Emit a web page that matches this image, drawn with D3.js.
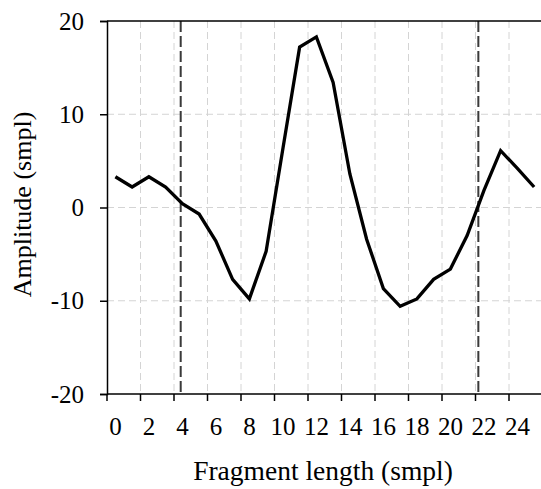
<!DOCTYPE html>
<html>
<head>
<meta charset="utf-8">
<script src="https://cdn.jsdelivr.net/npm/d3@7"></script>
<style>
  html, body { margin: 0; padding: 0; background: #fff; overflow: hidden; }
  svg { display: block; }
  text { font-family: "Liberation Serif", "Times New Roman", serif; fill: #000; }
</style>
</head>
<body>
<script>
// ---- data ----
const categories = d3.range(0, 26);            // fragment sample index 0..25
const amplitude = [3.3, 2.2, 3.3, 2.2, 0.4, -0.7, -3.6, -7.7, -9.8, -4.7,
                   6.3, 17.2, 18.3, 13.4, 3.6, -3.4, -8.7, -10.6, -9.8, -7.7,
                   -6.6, -3.0, 1.8, 6.1, 4.2, 2.2];
const yTicks = [-20, -10, 0, 10, 20];
const xTickLabels = [0, 2, 4, 6, 8, 10, 12, 14, 16, 18, 20, 22, 24];
const markers = [3.9, 21.67];                  // dashed vertical boundaries (sample units)
const xTitle = "Fragment length (smpl)";
const yTitle = "Amplitude (smpl)";

// ---- layout ----
const W = 541, H = 489;
const mLeft = 107, mRight = 542.5, mTop = 21, mBottom = 394;

const svg = d3.select("body").append("svg").attr("width", W).attr("height", H);

const x = d3.scaleBand().domain(categories).range([mLeft, mRight]).padding(0);
const xc = d => x(d) + x.bandwidth() / 2;
const xLin = d3.scaleLinear().domain([-0.5, categories.length - 0.5]).range([mLeft, mRight]);
const y = d3.scaleLinear().domain([-20, 20]).range([mBottom, mTop]);

// grid: horizontal
svg.append("g").selectAll("line").data(yTicks.filter(v => v !== -20 && v !== 20)).join("line")
  .attr("x1", mLeft).attr("x2", W).attr("y1", d => y(d)).attr("y2", d => y(d))
  .attr("stroke", "#d4d4d4").attr("stroke-width", 1).attr("stroke-dasharray", "7,4");

// grid: vertical at category boundaries every 2
const boundaries = xTickLabels.map(v => x(v));
svg.append("g").selectAll("line").data(boundaries.filter(b => b > mLeft + 1)).join("line")
  .attr("x1", d => d).attr("x2", d => d).attr("y1", mTop).attr("y2", mBottom)
  .attr("stroke", "#d4d4d4").attr("stroke-width", 1).attr("stroke-dasharray", "7,4");

// dashed markers
svg.append("g").selectAll("line").data(markers).join("line")
  .attr("x1", d => xLin(d)).attr("x2", d => xLin(d)).attr("y1", mTop).attr("y2", mBottom)
  .attr("stroke", "#3a3a3a").attr("stroke-width", 2).attr("stroke-dasharray", "11,4");

// data line
const line = d3.line().x((d, i) => xc(categories[i])).y(d => y(d));
svg.append("path").datum(amplitude)
  .attr("d", line).attr("fill", "none")
  .attr("stroke", "#000").attr("stroke-width", 3.3).attr("stroke-linejoin", "miter");

// top border
svg.append("line").attr("x1", mLeft).attr("x2", W).attr("y1", mTop).attr("y2", mTop)
  .attr("stroke", "#000").attr("stroke-width", 1.5);

// y axis
const yAxis = d3.axisLeft(y).tickValues(yTicks).tickSize(7).tickPadding(16).tickFormat(d3.format("d"));
const gy = svg.append("g").attr("transform", `translate(${mLeft},0)`).call(yAxis);
gy.select(".domain").attr("stroke", "#000").attr("stroke-width", 1.5);
gy.selectAll(".tick line").attr("stroke", "#000").attr("stroke-width", 1.5);
gy.selectAll(".tick text").style("font-size", "25px")
  .style("font-family", '"Liberation Serif", "Times New Roman", serif').attr("fill", "#000")
  .text(d => d < 0 ? "-" + Math.abs(d) : d);

// x axis: ticks at boundaries, labels at category centers
const gx = svg.append("g");
gx.append("line").attr("x1", mLeft).attr("x2", W).attr("y1", mBottom).attr("y2", mBottom)
  .attr("stroke", "#000").attr("stroke-width", 1.5);
gx.selectAll("line.tk").data(boundaries).join("line").attr("class", "tk")
  .attr("x1", d => d).attr("x2", d => d).attr("y1", mBottom).attr("y2", mBottom + 7)
  .attr("stroke", "#000").attr("stroke-width", 1.5);
gx.selectAll("text").data(xTickLabels).join("text")
  .attr("x", d => xc(d)).attr("y", 435)
  .attr("text-anchor", "middle").style("font-size", "25px")
  .text(d => d);

// titles
svg.append("text").attr("x", 323).attr("y", 480).attr("text-anchor", "middle")
  .style("font-size", "27.5px").text(xTitle);
svg.append("text").attr("transform", `translate(31,204.5) rotate(-90)`).attr("text-anchor", "middle")
  .style("font-size", "26px").text(yTitle);
</script>
</body>
</html>
